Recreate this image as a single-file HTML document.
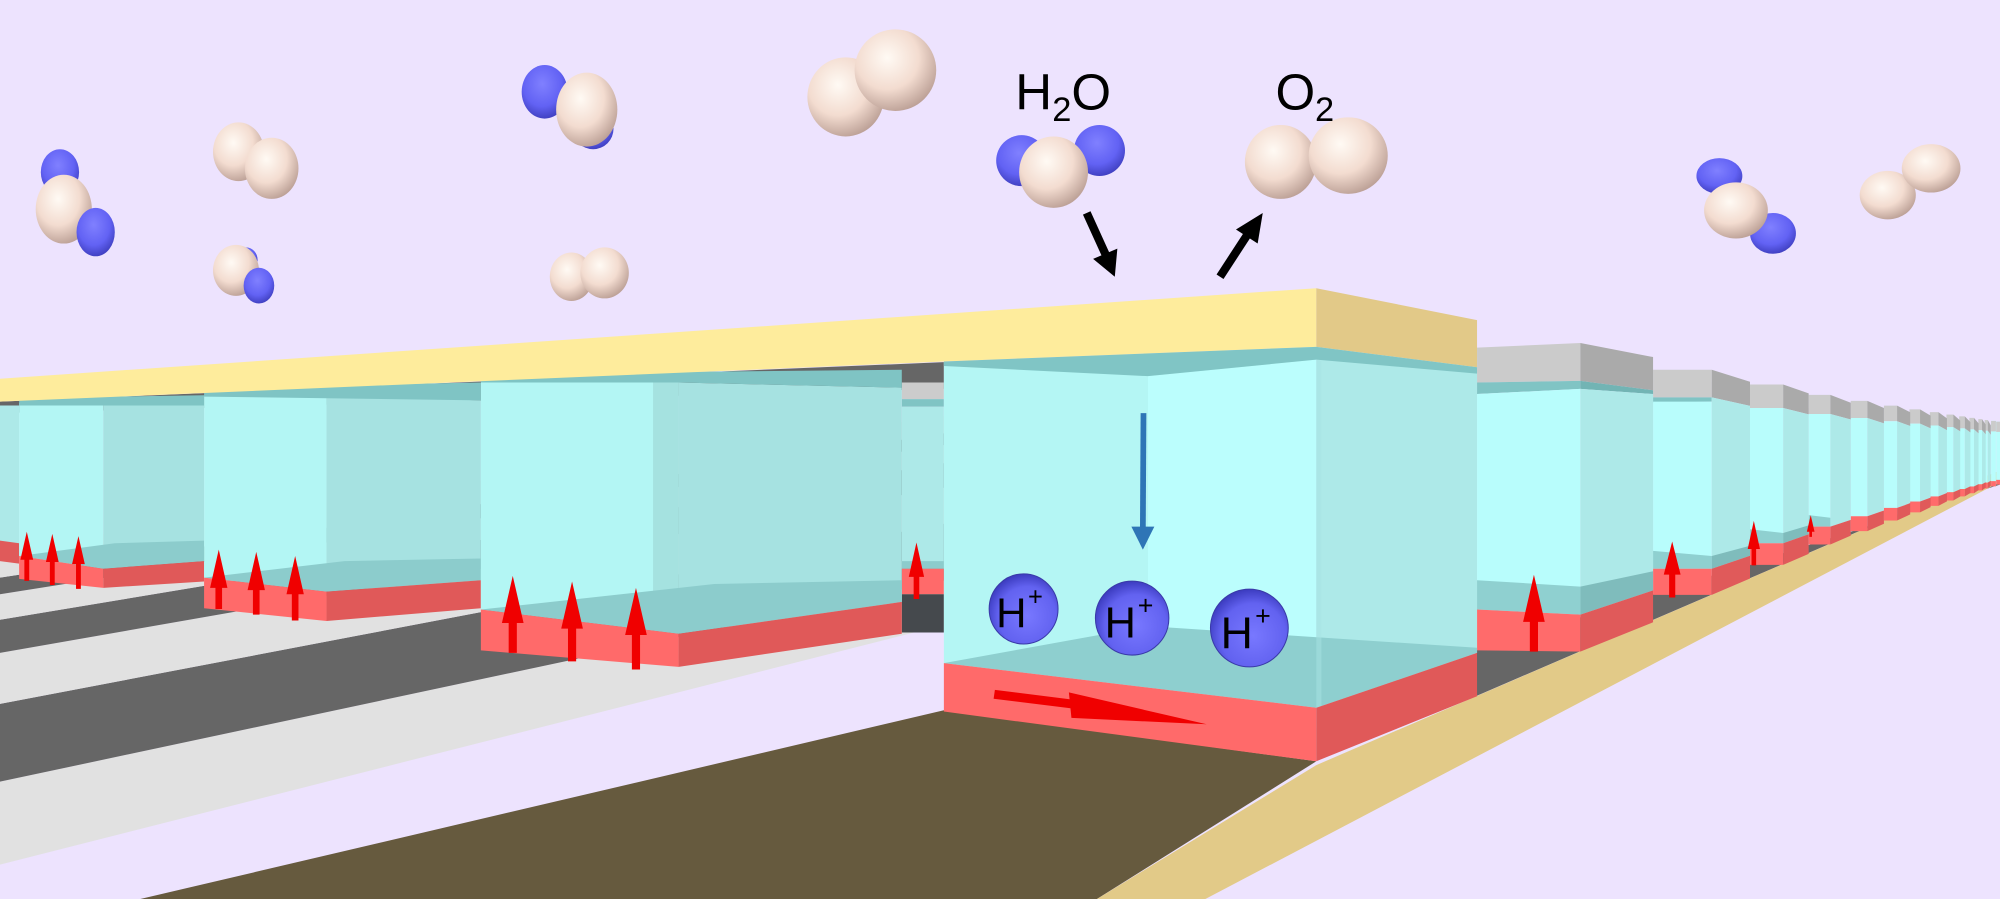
<!DOCTYPE html>
<html><head><meta charset="utf-8"><style>
html,body{margin:0;padding:0;background:#ede3fe;}
svg{display:block;}
text{font-family:"Liberation Sans",sans-serif;}
</style></head><body>
<svg width="2000" height="899" viewBox="0 0 1568 705" preserveAspectRatio="none" xmlns="http://www.w3.org/2000/svg">
<defs>
<radialGradient id="w" cx="0.4" cy="0.35" r="0.7"><stop offset="0" stop-color="#fffaf4"/><stop offset="0.55" stop-color="#f3dcd0"/><stop offset="1" stop-color="#b89c92"/></radialGradient>
<radialGradient id="b" cx="0.45" cy="0.35" r="0.7"><stop offset="0" stop-color="#8080ff"/><stop offset="0.6" stop-color="#6262f4"/><stop offset="1" stop-color="#3a3ab8"/></radialGradient>
<radialGradient id="h" cx="0.55" cy="0.6" r="0.6"><stop offset="0" stop-color="#7878ff"/><stop offset="0.7" stop-color="#6262f0"/><stop offset="1" stop-color="#3c3cc0"/></radialGradient>
</defs>
<rect width="1568" height="705" fill="#ede3fe"/>

<!-- left floor bands (converge to 1568,360) -->
<polygon points="0,613 0,678 1000,424 1000,400" fill="#e1e1e1"/>
<polygon points="0,552 0,613 1000,400 1000,361" fill="#666666"/>
<polygon points="0,512 0,552 1000,361 1000,337" fill="#e1e1e1"/>
<polygon points="0,486 0,512 1000,337 1000,320" fill="#666666"/>
<polygon points="0,466 0,486 1000,320 1000,308" fill="#e1e1e1"/>
<polygon points="0,453 0,466 1000,308 1000,300" fill="#666666"/>
<polygon points="0,430 0,453 1000,300 1000,290" fill="#e1e1e1"/>

<!-- brown floor -->
<polygon points="110,705 740,557 1032,597 860,705" fill="#665a3e"/>
<!-- right floor -->
<polygon points="1157,510 1568,380 1568,369 1157,546" fill="#666666"/>
<!-- rail -->
<polygon points="860,705 945,705 1568,378 1568,369 1032,600" fill="#e2ca88"/>

<!-- far right boxes -->
<g id="far">
<!-- d=15..129 -->
<polygon points="1565,330.7 1568,330.7 1568,380 1565,380" fill="#b8fdfc"/>
<polygon points="1561,330.1 1564.8,330.1 1564.8,381.4 1561,381.4" fill="#b8fdfc"/>
<polygon points="1561,330.1 1564.8,330.1 1564.8,338.3 1561,338.3" fill="#cbcbcb"/>
<polygon points="1561,377.3 1564.8,377.3 1564.8,381.4 1561,381.4" fill="#ff6b6b"/>
<polygon points="1565,330.7 1568,330.7 1568,338.7 1565,338.7" fill="#cbcbcb"/>
<polygon points="1565,376.3 1568,376.3 1568,380 1565,380" fill="#ff6b6b"/>
</g>
<g>
<!-- generic far boxes: gray, cyan, red front + side -->
<!-- d=24 -->
<polygon points="1556,329.4 1558.4,329.4 1558.4,337.8 1556,337.8" fill="#cbcbcb"/><polygon points="1558.4,329.4 1560.8,333.6 1560.8,341 1558.4,337.8" fill="#aaa"/>
<polygon points="1556,337.8 1558.4,337.8 1558.4,378.5 1556,378.5" fill="#b8fdfc"/><polygon points="1558.4,337.8 1560.8,341 1560.8,377 1558.4,378.5" fill="#ade9e8"/>
<polygon points="1556,378.5 1558.4,378.5 1558.4,383 1556,383" fill="#ff6b6b"/><polygon points="1558.4,378.5 1560.8,377 1560.8,381 1558.4,383" fill="#e05a5a"/>
<!-- d=29 -->
<polygon points="1551,328.7 1553.9,328.7 1553.9,337.3 1551,337.3" fill="#cbcbcb"/><polygon points="1553.9,328.7 1556.8,333 1556.8,340.6 1553.9,337.3" fill="#aaa"/>
<polygon points="1551,337.3 1553.9,337.3 1553.9,379.8 1551,379.8" fill="#b8fdfc"/><polygon points="1553.9,337.3 1556.8,340.6 1556.8,378.2 1553.9,379.8" fill="#ade9e8"/>
<polygon points="1551,379.8 1553.9,379.8 1553.9,384.6 1551,384.6" fill="#ff6b6b"/><polygon points="1553.9,379.8 1556.8,378.2 1556.8,382.5 1553.9,384.6" fill="#e05a5a"/>
<!-- d=36 -->
<polygon points="1544,327.7 1547.6,327.7 1547.6,336.7 1544,336.7" fill="#cbcbcb"/><polygon points="1547.6,327.7 1551.2,332 1551.2,340 1547.6,336.7" fill="#aaa"/>
<polygon points="1544,336.7 1547.6,336.7 1547.6,381.5 1544,381.5" fill="#b8fdfc"/><polygon points="1547.6,336.7 1551.2,340 1551.2,379.7 1547.6,381.5" fill="#ade9e8"/>
<polygon points="1544,381.5 1547.6,381.5 1547.6,386.8 1544,386.8" fill="#ff6b6b"/><polygon points="1547.6,381.5 1551.2,379.7 1551.2,384.4 1547.6,386.8" fill="#e05a5a"/>
<!-- d=44 -->
<polygon points="1536,326.5 1540.4,326.5 1540.4,335.9 1536,335.9" fill="#cbcbcb"/><polygon points="1540.4,326.5 1544.8,331 1544.8,339.2 1540.4,335.9" fill="#aaa"/>
<polygon points="1536,335.9 1540.4,335.9 1540.4,383.5 1536,383.5" fill="#b8fdfc"/><polygon points="1540.4,335.9 1544.8,339.2 1544.8,381.4 1540.4,383.5" fill="#ade9e8"/>
<polygon points="1536,383.5 1540.4,383.5 1540.4,389.3 1536,389.3" fill="#ff6b6b"/><polygon points="1540.4,383.5 1544.8,381.4 1544.8,386.6 1540.4,389.3" fill="#e05a5a"/>
<!-- d=54 -->
<polygon points="1526,325.1 1531.4,325.1 1531.4,335 1526,335" fill="#cbcbcb"/><polygon points="1531.4,325.1 1536.8,329.8 1536.8,338.3 1531.4,335" fill="#aaa"/>
<polygon points="1526,335 1531.4,335 1531.4,386 1526,386" fill="#b8fdfc"/><polygon points="1531.4,335 1536.8,338.3 1536.8,383.7 1531.4,386" fill="#ade9e8"/>
<polygon points="1526,386 1531.4,386 1531.4,392.5 1526,392.5" fill="#ff6b6b"/><polygon points="1531.4,386 1536.8,383.7 1536.8,389.4 1531.4,392.5" fill="#e05a5a"/>
<!-- d=67 -->
<polygon points="1513,323.2 1519.7,323.2 1519.7,333.7 1513,333.7" fill="#cbcbcb"/><polygon points="1519.7,323.2 1526.4,328.1 1526.4,337.4 1519.7,333.7" fill="#aaa"/>
<polygon points="1513,333.7 1519.7,333.7 1519.7,389.3 1513,389.3" fill="#b8fdfc"/><polygon points="1519.7,333.7 1526.4,337.4 1526.4,386.6 1519.7,389.3" fill="#ade9e8"/>
<polygon points="1513,389.3 1519.7,389.3 1519.7,396.7 1513,396.7" fill="#ff6b6b"/><polygon points="1519.7,389.3 1526.4,386.6 1526.4,393.2 1519.7,396.7" fill="#e05a5a"/>
<!-- d=83 -->
<polygon points="1497,321 1505.3,321 1505.3,332.2 1497,332.2" fill="#cbcbcb"/><polygon points="1505.3,321 1513.6,325.9 1513.6,335.9 1505.3,332.2" fill="#aaa"/>
<polygon points="1497,332.2 1505.3,332.2 1505.3,393.3 1497,393.3" fill="#b8fdfc"/><polygon points="1505.3,332.2 1513.6,335.9 1513.6,390.2 1505.3,393.3" fill="#ade9e8"/>
<polygon points="1497,393.3 1505.3,393.3 1505.3,401.8 1497,401.8" fill="#ff6b6b"/><polygon points="1505.3,393.3 1513.6,390.2 1513.6,397.7 1505.3,401.8" fill="#e05a5a"/>
<!-- d=103 -->
<polygon points="1477,318.1 1487.3,318.1 1487.3,330.3 1477,330.3" fill="#cbcbcb"/><polygon points="1487.3,318.1 1497.6,323.3 1497.6,334.1 1487.3,330.3" fill="#aaa"/>
<polygon points="1477,330.3 1487.3,330.3 1487.3,398.3 1477,398.3" fill="#b8fdfc"/><polygon points="1487.3,330.3 1497.6,334.1 1497.6,394.6 1487.3,398.3" fill="#ade9e8"/>
<polygon points="1477,398.3 1487.3,398.3 1487.3,408.2 1477,408.2" fill="#ff6b6b"/><polygon points="1487.3,398.3 1497.6,394.6 1497.6,403.4 1487.3,408.2" fill="#e05a5a"/>
<!-- d=129 -->
<polygon points="1451,314.4 1464,314.4 1464,327.8 1451,327.8" fill="#cbcbcb"/><polygon points="1464,314.4 1477,320 1477,332 1464,327.8" fill="#aaa"/>
<polygon points="1451,327.8 1464,327.8 1464,404.8 1451,404.8" fill="#b8fdfc"/><polygon points="1464,327.8 1477,332 1477,400.3 1464,404.8" fill="#ade9e8"/>
<polygon points="1451,404.8 1464,404.8 1464,416.5 1451,416.5" fill="#ff6b6b"/><polygon points="1464,404.8 1477,400.3 1477,410.7 1464,416.5" fill="#e05a5a"/>
<!-- R4 -->
<polygon points="1418,309.7 1435,309.7 1435,324.7 1418,324.7" fill="#cbcbcb"/><polygon points="1435,309.7 1451,315.8 1451,329 1435,324.7" fill="#aaa"/>
<polygon points="1418,324.7 1435,324.7 1435,413 1418,413" fill="#b8fdfc"/><polygon points="1435,324.7 1451,329 1451,407.7 1435,413" fill="#ade9e8"/>
<polygon points="1418,404 1435,406 1435,413 1418,413" fill="#8fd0d0"/>
<polygon points="1418,413 1435,413 1435,427 1418,427" fill="#ff6b6b"/><polygon points="1435,413 1451,407.7 1451,420 1435,427" fill="#e05a5a"/>
<!-- R3 -->
<polygon points="1372,301.5 1398,301.5 1398,320 1372,320" fill="#cbcbcb"/><polygon points="1398,301.5 1418,308.5 1418,325 1398,320" fill="#aaa"/>
<polygon points="1372,320 1398,320 1398,426 1372,426" fill="#b8fdfc"/><polygon points="1398,320 1418,325 1418,419 1398,426" fill="#ade9e8"/>
<polygon points="1372,415 1398,418 1398,426 1372,426" fill="#8fd0d0"/><polygon points="1398,418 1418,412 1418,419 1398,426" fill="#7fbcbc"/>
<polygon points="1372,426 1398,426 1398,443 1372,443" fill="#ff6b6b"/><polygon points="1398,426 1418,419 1418,434.4 1398,443" fill="#e05a5a"/>
<!-- R2 -->
<polygon points="1296,290 1342,290 1342,311.6 1296,311.6" fill="#cbcbcb"/><polygon points="1342,290 1372,299.4 1372,318.3 1342,311.6" fill="#aaa"/>
<polygon points="1296,311.6 1342,311.6 1342,315 1296,316" fill="#80c4c4"/>
<polygon points="1296,315 1342,315 1342,446 1296,446" fill="#b8fdfc"/><polygon points="1342,311.6 1372,318.3 1372,435.8 1342,446" fill="#ade9e8"/>
<polygon points="1296,432 1342,436 1342,446 1296,446" fill="#8fd0d0"/><polygon points="1342,436 1372,428 1372,435.8 1342,446" fill="#7fbcbc"/>
<polygon points="1296,446 1342,446 1342,466.5 1296,466.5" fill="#ff6b6b"/><polygon points="1342,446 1372,435.8 1372,453.7 1342,466.5" fill="#e05a5a"/>
<!-- R1 -->
<polygon points="1158,272.6 1239,269 1239,298.7 1158,300" fill="#cbcbcb"/><polygon points="1239,269 1296,280 1296,306 1239,298.7" fill="#aaa"/>
<polygon points="1158,300 1239,298.7 1239,305 1158,309" fill="#80c4c4"/><polygon points="1239,298.7 1296,306 1296,309 1239,305" fill="#72b4b4"/>
<polygon points="1158,309 1239,305 1239,482 1158,478" fill="#b8fdfc"/><polygon points="1239,305 1296,309 1296,463 1239,482" fill="#ade9e8"/>
<polygon points="1158,455 1239,460 1239,482 1158,478" fill="#8fd0d0"/><polygon points="1239,460 1296,448 1296,463 1239,482" fill="#7fbcbc"/>
<polygon points="1158,478 1239,482 1239,511 1158,510" fill="#ff6b6b"/><polygon points="1239,482 1296,463 1296,488 1239,511" fill="#e05a5a"/>
</g>

<!-- dark strip under yellow on left -->
<polygon points="0,315 740,284 740,305 0,324" fill="#666"/>

<!-- Box D -->
<polygon points="0,318 15,318 15,428 0,426" fill="#ade9e8"/>
<polygon points="0,424 15,426 15,442 0,440" fill="#e05a5a"/>
<!-- Box C -->
<polygon points="15,316 81,316 81,446 15,436" fill="#b3f6f4"/>
<polygon points="81,316 160,318 160,440 81,446" fill="#a6e2e1"/>
<polygon points="15,312 160,310 160,318 15,318" fill="#7fc4c4"/>
<polygon points="15,436 90,426 160,424 160,440 81,446" fill="#8ccccc"/>
<polygon points="15,436 81,446 81,461 15,454" fill="#ff6a6a"/>
<polygon points="81,446 160,440 160,456 81,461" fill="#e05959"/>
<!-- Box B -->
<polygon points="160,310 256,310 256,464 160,453" fill="#b3f6f4"/>
<polygon points="256,310 377,314 377,455 256,464" fill="#a6e2e1"/>
<polygon points="160,304 377,300 377,314 160,311" fill="#7fc4c4"/>
<polygon points="160,453 270,440 377,438 377,455 256,464" fill="#8ccccc"/>
<polygon points="160,453 256,464 256,487 160,477" fill="#ff6a6a"/>
<polygon points="256,464 377,455 377,477 256,487" fill="#e05959"/>
<!-- Box E -->
<polygon points="707,300 740,300 740,313 707,313" fill="#cccccc"/>
<polygon points="707,313 740,313 740,319 707,319" fill="#80c4c4"/>
<polygon points="707,319 740,319 740,446 707,446" fill="#ade9e8"/>
<polygon points="707,440 740,440 740,446 707,446" fill="#8ccccc"/>
<polygon points="707,446 740,446 740,466 707,466" fill="#ff6a6a"/>
<polygon points="707,466 740,466 740,496 707,496" fill="#45494d"/>
<!-- Box A -->
<polygon points="377,300 532,300 532,497 377,478" fill="#b3f6f4"/>
<polygon points="532,300 707,304 707,472 532,497" fill="#a6e2e1"/>
<polygon points="512,300 532,300 532,495 512,493" fill="#a5e2e0"/>
<polygon points="377,293 707,290 707,304 532,300 377,300" fill="#7fc4c4"/>
<polygon points="377,478 560,458 707,455 707,472 532,497" fill="#8ccccc"/>
<polygon points="377,478 532,497 532,523 377,510" fill="#ff6a6a"/>
<polygon points="532,497 707,472 707,497 532,523" fill="#e05959"/>

<!-- yellow slab -->
<polygon points="0,297 1032,226 1032,272 740,283.5 0,315" fill="#feec9c"/>
<polygon points="1032,226 1158,251 1158,288 1032,272" fill="#e2c988"/>

<!-- main box -->
<polygon points="740,284 1032,272 1032,555 740,520" fill="#b4f6f4"/>
<polygon points="900,295 1032,282 1032,555 900,491" fill="#bbfefd"/>
<polygon points="1032,272 1158,288 1158,512 1032,555" fill="#ade9e8"/>
<polygon points="740,283.5 1032,272 1158,288 1158,293 1032,282 900,295 740,287" fill="#80c5c5"/>
<polygon points="740,520 900,491 1158,508 1158,512 1032,555" fill="#8ecfcf"/>
<polygon points="1032,282 1032,555 1036,555 1036,283" fill="#a8e4e3" opacity="0.5"/>
<polygon points="740,520 1032,555 1032,597 740,558" fill="#ff6a6a"/>
<polygon points="1032,555 1158,512 1158,546 1032,597" fill="#e05959"/>

<!-- red up arrows -->
<g fill="#f00000">
<polygon points="402,451.6 410.5,488.6 405.2,488.6 405.2,512 398.8,512 398.8,488.6 393.5,488.6"/>
<polygon points="448.5,456 457,493 451.7,493 451.7,518.7 445.3,518.7 445.3,493 440,493"/>
<polygon points="498.6,461 507.1,498 501.8,498 501.8,525 495.4,525 495.4,498 490.1,498"/>
<polygon points="171.5,431 178.3,461 174.1,461 174.1,477.6 168.9,477.6 168.9,461 164.7,461"/>
<polygon points="200.9,432.8 207.7,462.8 203.5,462.8 203.5,482 198.3,482 198.3,462.8 194.1,462.8"/>
<polygon points="231.4,436 238.2,466 234,466 234,486.6 228.8,486.6 228.8,466 224.6,466"/>
<polygon points="21,417 26,439 22.9,439 22.9,455.5 19.1,455.5 19.1,439 16,439"/>
<polygon points="41,418.7 46,440.7 42.9,440.7 42.9,458.8 39.1,458.8 39.1,440.7 36,440.7"/>
<polygon points="61.5,420.4 66.5,442.4 63.4,442.4 63.4,461.8 59.6,461.8 59.6,442.4 56.5,442.4"/>
<polygon points="718.5,425.4 724.5,452.4 720.7,452.4 720.7,469.7 716.3,469.7 716.3,452.4 712.5,452.4"/>
<polygon points="1202.6,450.7 1211.1,487.7 1205.8,487.7 1205.8,511 1199.4,511 1199.4,487.7 1194.1,487.7"/>
<polygon points="1311,424.6 1317.6,450.6 1313.4,450.6 1313.4,468.6 1308.6,468.6 1308.6,450.6 1304.4,450.6"/>
<polygon points="1375,408.5 1379.8,430.5 1376.8,430.5 1376.8,443.4 1373.2,443.4 1373.2,430.5 1370.2,430.5"/>
<polygon points="1419.6,404 1422.6,417 1420.6,417 1420.6,421 1418.6,421 1418.6,417 1416.6,417"/>
<!-- horizontal arrow in main box -->
<polygon points="780,541 844,549 844,556 779,548"/>
<polygon points="838,543 946,568 840,563"/>
</g>

<!-- blue arrow -->
<line x1="896.5" y1="324" x2="896" y2="415" stroke="#2e75b6" stroke-width="4.5"/>
<polygon points="887,413 905,413 896,431" fill="#2e75b6"/>

<!-- H+ ions -->
<ellipse cx="802.5" cy="477.5" rx="27" ry="27.5" fill="url(#h)" stroke="#3a3aa8" stroke-width="0.8"/>
<ellipse cx="887.6" cy="484.7" rx="28.8" ry="29" fill="url(#h)" stroke="#3a3aa8" stroke-width="0.8"/>
<ellipse cx="979.5" cy="492.5" rx="30.5" ry="30.5" fill="url(#h)" stroke="#3a3aa8" stroke-width="0.8"/>
<g fill="#000">
<text x="781" y="492" font-size="33">H</text><text x="806" y="475" font-size="20">+</text>
<text x="866" y="500" font-size="34">H</text><text x="892" y="482" font-size="21">+</text>
<text x="957" y="508" font-size="35">H</text><text x="984" y="490" font-size="21">+</text>
</g>

<!-- molecules -->
<ellipse cx="47" cy="135" rx="15" ry="18" fill="url(#b)"/>
<ellipse cx="50" cy="164" rx="22" ry="27" fill="url(#w)"/>
<ellipse cx="75" cy="182" rx="15" ry="19" fill="url(#b)"/>

<ellipse cx="187" cy="119" rx="20" ry="23" fill="url(#w)"/>
<ellipse cx="213" cy="132" rx="21" ry="24" fill="url(#w)"/>

<ellipse cx="193" cy="204" rx="9" ry="10" fill="url(#b)"/>
<ellipse cx="185" cy="212" rx="18" ry="20" fill="url(#w)"/>
<ellipse cx="203" cy="224" rx="12" ry="14" fill="url(#b)"/>

<ellipse cx="465" cy="101" rx="16" ry="16" fill="url(#b)"/>
<ellipse cx="427" cy="72" rx="18" ry="21" fill="url(#b)"/>
<ellipse cx="460" cy="86" rx="24" ry="29" fill="url(#w)"/>

<ellipse cx="448" cy="217" rx="17" ry="19" fill="url(#w)"/>
<ellipse cx="474" cy="214" rx="19" ry="20" fill="url(#w)"/>

<ellipse cx="663" cy="76" rx="30" ry="31" fill="url(#w)"/>
<ellipse cx="702" cy="55" rx="32" ry="32" fill="url(#w)"/>

<ellipse cx="801" cy="126" rx="20" ry="20" fill="url(#b)"/>
<ellipse cx="862" cy="118" rx="20" ry="20" fill="url(#b)"/>
<ellipse cx="826" cy="135" rx="27" ry="28" fill="url(#w)"/>

<ellipse cx="1004" cy="127" rx="28" ry="29" fill="url(#w)"/>
<ellipse cx="1057" cy="122" rx="31" ry="30" fill="url(#w)"/>

<ellipse cx="1348" cy="138" rx="18" ry="14" fill="url(#b)"/>
<ellipse cx="1390" cy="183" rx="18" ry="16" fill="url(#b)"/>
<ellipse cx="1361" cy="165" rx="25" ry="22" fill="url(#w)"/>

<ellipse cx="1480" cy="153" rx="22" ry="19" fill="url(#w)"/>
<ellipse cx="1514" cy="132" rx="23" ry="19" fill="url(#w)"/>

<!-- labels -->
<text x="796" y="86" font-size="40" fill="#000">H</text>
<text x="825" y="95" font-size="27" fill="#000">2</text>
<text x="840" y="86" font-size="40" fill="#000">O</text>
<text x="1000" y="86" font-size="40" fill="#000">O</text>
<text x="1031" y="95" font-size="27" fill="#000">2</text>

<!-- black arrows -->
<line x1="852" y1="167" x2="867" y2="200" stroke="#000" stroke-width="6.5"/>
<polygon points="857,203 876,195 874,217" fill="#000"/>
<line x1="956.5" y1="217" x2="978" y2="184" stroke="#000" stroke-width="6.5"/>
<polygon points="969,180 986,191 990,167" fill="#000"/>
</svg>
</body></html>
